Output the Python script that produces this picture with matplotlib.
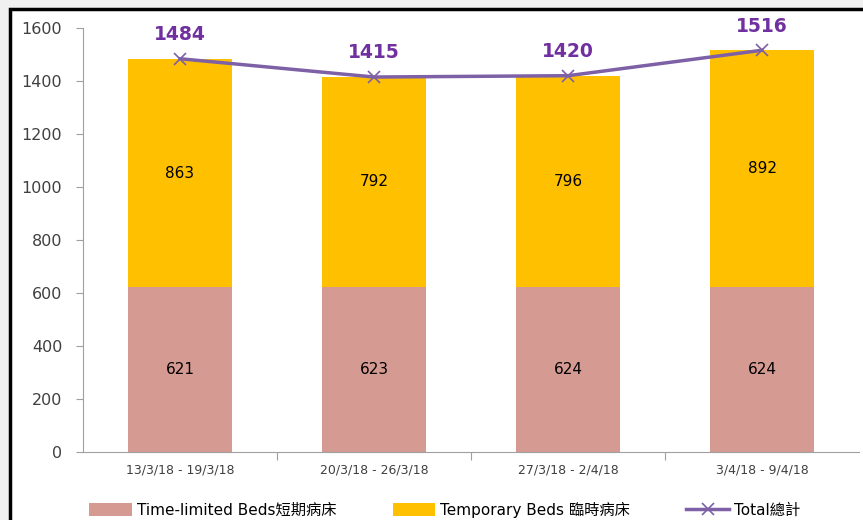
import matplotlib.pyplot as plt
from matplotlib.patches import Rectangle

plt.rcParams['font.family'] = ['DejaVu Sans', 'Noto Sans CJK TC']

weeks = ['13/3/18 - 19/3/18', '20/3/18 - 26/3/18', '27/3/18 - 2/4/18', '3/4/18 - 9/4/18']
time_limited = [621, 623, 624, 624]
temporary = [863, 792, 796, 892]
total = [1484, 1415, 1420, 1516]

pink = '#D59A92'
gold = '#FFC000'
purple = '#7E60A6'
label_purple = '#7030A0'

fig = plt.figure(figsize=(8.63, 5.20), dpi=100)
fig.patch.set_facecolor('#F0F0F0')
# white chart area with black frame
fig.patches.append(Rectangle((10 / 863, -0.05), 1.05, (520 - 9) / 520 + 0.05,
                             transform=fig.transFigure, facecolor='white',
                             edgecolor='black', linewidth=2.5, zorder=-5))

ax = fig.add_axes([83 / 863, 68 / 520, 776 / 863, 424 / 520])
ax.set_facecolor('none')

x = range(len(weeks))
w = 0.54
b1 = ax.bar(x, time_limited, w, color=pink, label='Time-limited Beds短期病床', zorder=2)
b2 = ax.bar(x, temporary, w, bottom=time_limited, color=gold, label='Temporary Beds 臨時病床', zorder=2)
ln, = ax.plot(x, total, color=purple, linewidth=2.5, marker='x', markersize=8,
              markeredgewidth=1.2, label='Total總計', zorder=3)

for i in x:
    ax.text(i, time_limited[i] / 2, str(time_limited[i]), ha='center', va='center',
            fontsize=11, color='black', zorder=4)
    ax.text(i, time_limited[i] + temporary[i] / 2, str(temporary[i]), ha='center',
            va='center', fontsize=11, color='black', zorder=4)
    ax.text(i, total[i] + 55, str(total[i]), ha='center', va='bottom', fontsize=13.5,
            fontweight='bold', color=label_purple, zorder=4)

ax.set_xlim(-0.5, len(weeks) - 0.5)
ax.set_ylim(0, 1600)
ax.set_yticks(range(0, 1601, 200))
ax.tick_params(axis='y', labelsize=11.5, colors='#404040', length=5, color='#A0A0A0', pad=10)
ax.set_xticks([i + 0.5 for i in range(len(weeks) - 1)], minor=False)
ax.set_xticklabels([])
ax.set_xticks(list(x), minor=True)
ax.set_xticklabels(weeks, minor=True, fontsize=9, color='#404040')
ax.tick_params(axis='x', which='major', length=6, color='#A0A0A0', direction='out')
ax.tick_params(axis='x', which='minor', length=0, pad=8)
for s in ['top', 'right']:
    ax.spines[s].set_visible(False)
for s in ['left', 'bottom']:
    ax.spines[s].set_color('#A0A0A0')

ax.legend(handles=[b1, b2, ln], loc='upper center', bbox_to_anchor=(0.466, -0.085), ncol=3,
          frameon=False, fontsize=11, handlelength=2.8, handleheight=0.9,
          columnspacing=3.7, handletextpad=0.3)

fig.savefig('out.png', dpi=100, facecolor=fig.get_facecolor())
